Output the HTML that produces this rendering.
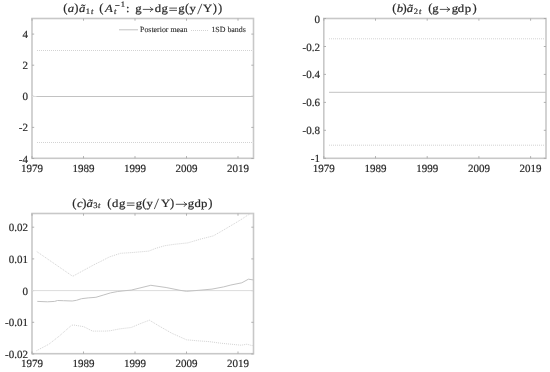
<!DOCTYPE html>
<html><head><meta charset="utf-8"><style>
html,body{margin:0;padding:0;background:#fff;width:550px;height:372px;overflow:hidden}
svg{display:block;filter:blur(0.4px)}
svg{font-size:11px} text{text-rendering:geometricPrecision;font-family:"Liberation Serif",serif;fill:#2a2a2a;stroke:#2a2a2a;stroke-width:0.2px}
</style></head><body>
<svg width="550" height="372" viewBox="0 0 550 372">
<rect width="550" height="372" fill="#fff"/>
<rect x="32" y="18.5" width="221.5" height="139.8" fill="none" stroke="#c8c8c8" stroke-width="1.6"/>
<line x1="32.0" y1="158.3" x2="32.0" y2="156.1" stroke="#a8a8a8" stroke-width="0.9"/>
<line x1="32.0" y1="18.5" x2="32.0" y2="20.7" stroke="#a8a8a8" stroke-width="0.9"/>
<line x1="83.5" y1="158.3" x2="83.5" y2="156.1" stroke="#a8a8a8" stroke-width="0.9"/>
<line x1="83.5" y1="18.5" x2="83.5" y2="20.7" stroke="#a8a8a8" stroke-width="0.9"/>
<line x1="135.0" y1="158.3" x2="135.0" y2="156.1" stroke="#a8a8a8" stroke-width="0.9"/>
<line x1="135.0" y1="18.5" x2="135.0" y2="20.7" stroke="#a8a8a8" stroke-width="0.9"/>
<line x1="186.5" y1="158.3" x2="186.5" y2="156.1" stroke="#a8a8a8" stroke-width="0.9"/>
<line x1="186.5" y1="18.5" x2="186.5" y2="20.7" stroke="#a8a8a8" stroke-width="0.9"/>
<line x1="238.0" y1="158.3" x2="238.0" y2="156.1" stroke="#a8a8a8" stroke-width="0.9"/>
<line x1="238.0" y1="18.5" x2="238.0" y2="20.7" stroke="#a8a8a8" stroke-width="0.9"/>
<line x1="32" y1="34.1" x2="34.2" y2="34.1" stroke="#a8a8a8" stroke-width="0.9"/>
<line x1="253.5" y1="34.1" x2="251.3" y2="34.1" stroke="#a8a8a8" stroke-width="0.9"/>
<line x1="32" y1="65.2" x2="34.2" y2="65.2" stroke="#a8a8a8" stroke-width="0.9"/>
<line x1="253.5" y1="65.2" x2="251.3" y2="65.2" stroke="#a8a8a8" stroke-width="0.9"/>
<line x1="32" y1="96.3" x2="34.2" y2="96.3" stroke="#a8a8a8" stroke-width="0.9"/>
<line x1="253.5" y1="96.3" x2="251.3" y2="96.3" stroke="#a8a8a8" stroke-width="0.9"/>
<line x1="32" y1="127.4" x2="34.2" y2="127.4" stroke="#a8a8a8" stroke-width="0.9"/>
<line x1="253.5" y1="127.4" x2="251.3" y2="127.4" stroke="#a8a8a8" stroke-width="0.9"/>
<line x1="32" y1="158.5" x2="34.2" y2="158.5" stroke="#a8a8a8" stroke-width="0.9"/>
<line x1="253.5" y1="158.5" x2="251.3" y2="158.5" stroke="#a8a8a8" stroke-width="0.9"/>
<line x1="32" y1="96.5" x2="253.5" y2="96.5" stroke="#dcdcdc" stroke-width="1"/>
<line x1="36.5" y1="96.5" x2="253.5" y2="96.5" stroke="#c2c2c2" stroke-width="1"/>
<line x1="37" y1="50.5" x2="253.5" y2="50.5" stroke="#d3d3d3" stroke-width="1" stroke-dasharray="1 1"/>
<line x1="37" y1="142.5" x2="253.5" y2="142.5" stroke="#d3d3d3" stroke-width="1" stroke-dasharray="1 1"/>
<text x="28.0" y="38.1" text-anchor="end">4</text>
<text x="28.0" y="69.2" text-anchor="end">2</text>
<text x="28.0" y="100.3" text-anchor="end">0</text>
<text x="28.0" y="131.4" text-anchor="end">-2</text>
<text x="28.0" y="162.5" text-anchor="end">-4</text>
<text x="32.0" y="172.4" text-anchor="middle">1979</text>
<text x="83.5" y="172.4" text-anchor="middle">1989</text>
<text x="135.0" y="172.4" text-anchor="middle">1999</text>
<text x="186.5" y="172.4" text-anchor="middle">2009</text>
<text x="238.0" y="172.4" text-anchor="middle">2019</text>
<line x1="119" y1="29.8" x2="138" y2="29.8" stroke="#c2c2c2" stroke-width="1"/>
<text x="140" y="31.8" font-size="7.9" style="stroke-width:0.1px">Posterior mean</text>
<line x1="191" y1="30.5" x2="209" y2="30.5" stroke="#d3d3d3" stroke-width="1" stroke-dasharray="1 1"/>
<text x="211.4" y="31.9" font-size="7.9" style="stroke-width:0.1px">1SD bands</text>
<rect x="323.8" y="18.5" width="222.2" height="139.8" fill="none" stroke="#c8c8c8" stroke-width="1.6"/>
<line x1="323.8" y1="158.3" x2="323.8" y2="156.1" stroke="#a8a8a8" stroke-width="0.9"/>
<line x1="323.8" y1="18.5" x2="323.8" y2="20.7" stroke="#a8a8a8" stroke-width="0.9"/>
<line x1="375.5" y1="158.3" x2="375.5" y2="156.1" stroke="#a8a8a8" stroke-width="0.9"/>
<line x1="375.5" y1="18.5" x2="375.5" y2="20.7" stroke="#a8a8a8" stroke-width="0.9"/>
<line x1="427.2" y1="158.3" x2="427.2" y2="156.1" stroke="#a8a8a8" stroke-width="0.9"/>
<line x1="427.2" y1="18.5" x2="427.2" y2="20.7" stroke="#a8a8a8" stroke-width="0.9"/>
<line x1="478.9" y1="158.3" x2="478.9" y2="156.1" stroke="#a8a8a8" stroke-width="0.9"/>
<line x1="478.9" y1="18.5" x2="478.9" y2="20.7" stroke="#a8a8a8" stroke-width="0.9"/>
<line x1="530.6" y1="158.3" x2="530.6" y2="156.1" stroke="#a8a8a8" stroke-width="0.9"/>
<line x1="530.6" y1="18.5" x2="530.6" y2="20.7" stroke="#a8a8a8" stroke-width="0.9"/>
<line x1="323.8" y1="18.5" x2="326.0" y2="18.5" stroke="#a8a8a8" stroke-width="0.9"/>
<line x1="546" y1="18.5" x2="543.8" y2="18.5" stroke="#a8a8a8" stroke-width="0.9"/>
<line x1="323.8" y1="46.5" x2="326.0" y2="46.5" stroke="#a8a8a8" stroke-width="0.9"/>
<line x1="546" y1="46.5" x2="543.8" y2="46.5" stroke="#a8a8a8" stroke-width="0.9"/>
<line x1="323.8" y1="74.4" x2="326.0" y2="74.4" stroke="#a8a8a8" stroke-width="0.9"/>
<line x1="546" y1="74.4" x2="543.8" y2="74.4" stroke="#a8a8a8" stroke-width="0.9"/>
<line x1="323.8" y1="102.4" x2="326.0" y2="102.4" stroke="#a8a8a8" stroke-width="0.9"/>
<line x1="546" y1="102.4" x2="543.8" y2="102.4" stroke="#a8a8a8" stroke-width="0.9"/>
<line x1="323.8" y1="130.3" x2="326.0" y2="130.3" stroke="#a8a8a8" stroke-width="0.9"/>
<line x1="546" y1="130.3" x2="543.8" y2="130.3" stroke="#a8a8a8" stroke-width="0.9"/>
<line x1="323.8" y1="158.3" x2="326.0" y2="158.3" stroke="#a8a8a8" stroke-width="0.9"/>
<line x1="546" y1="158.3" x2="543.8" y2="158.3" stroke="#a8a8a8" stroke-width="0.9"/>
<line x1="329" y1="92.3" x2="546" y2="92.3" stroke="#c2c2c2" stroke-width="1"/>
<line x1="329" y1="38.8" x2="546" y2="38.8" stroke="#d3d3d3" stroke-width="1" stroke-dasharray="1 1"/>
<line x1="329" y1="145.2" x2="546" y2="145.2" stroke="#d3d3d3" stroke-width="1" stroke-dasharray="1 1"/>
<text x="320" y="22.5" text-anchor="end">0</text>
<text x="320" y="50.5" text-anchor="end">-0.2</text>
<text x="320" y="78.4" text-anchor="end">-0.4</text>
<text x="320" y="106.4" text-anchor="end">-0.6</text>
<text x="320" y="134.3" text-anchor="end">-0.8</text>
<text x="320" y="162.3" text-anchor="end">-1</text>
<text x="323.8" y="172.4" text-anchor="middle">1979</text>
<text x="375.5" y="172.4" text-anchor="middle">1989</text>
<text x="427.2" y="172.4" text-anchor="middle">1999</text>
<text x="478.9" y="172.4" text-anchor="middle">2009</text>
<text x="530.6" y="172.4" text-anchor="middle">2019</text>
<rect x="32" y="213.5" width="221.5" height="140.2" fill="none" stroke="#c8c8c8" stroke-width="1.6"/>
<line x1="32.0" y1="353.7" x2="32.0" y2="351.5" stroke="#a8a8a8" stroke-width="0.9"/>
<line x1="32.0" y1="213.5" x2="32.0" y2="215.7" stroke="#a8a8a8" stroke-width="0.9"/>
<line x1="83.5" y1="353.7" x2="83.5" y2="351.5" stroke="#a8a8a8" stroke-width="0.9"/>
<line x1="83.5" y1="213.5" x2="83.5" y2="215.7" stroke="#a8a8a8" stroke-width="0.9"/>
<line x1="135.0" y1="353.7" x2="135.0" y2="351.5" stroke="#a8a8a8" stroke-width="0.9"/>
<line x1="135.0" y1="213.5" x2="135.0" y2="215.7" stroke="#a8a8a8" stroke-width="0.9"/>
<line x1="186.5" y1="353.7" x2="186.5" y2="351.5" stroke="#a8a8a8" stroke-width="0.9"/>
<line x1="186.5" y1="213.5" x2="186.5" y2="215.7" stroke="#a8a8a8" stroke-width="0.9"/>
<line x1="238.0" y1="353.7" x2="238.0" y2="351.5" stroke="#a8a8a8" stroke-width="0.9"/>
<line x1="238.0" y1="213.5" x2="238.0" y2="215.7" stroke="#a8a8a8" stroke-width="0.9"/>
<line x1="32" y1="227.2" x2="34.2" y2="227.2" stroke="#a8a8a8" stroke-width="0.9"/>
<line x1="253.5" y1="227.2" x2="251.3" y2="227.2" stroke="#a8a8a8" stroke-width="0.9"/>
<line x1="32" y1="258.9" x2="34.2" y2="258.9" stroke="#a8a8a8" stroke-width="0.9"/>
<line x1="253.5" y1="258.9" x2="251.3" y2="258.9" stroke="#a8a8a8" stroke-width="0.9"/>
<line x1="32" y1="290.6" x2="34.2" y2="290.6" stroke="#a8a8a8" stroke-width="0.9"/>
<line x1="253.5" y1="290.6" x2="251.3" y2="290.6" stroke="#a8a8a8" stroke-width="0.9"/>
<line x1="32" y1="322.3" x2="34.2" y2="322.3" stroke="#a8a8a8" stroke-width="0.9"/>
<line x1="253.5" y1="322.3" x2="251.3" y2="322.3" stroke="#a8a8a8" stroke-width="0.9"/>
<line x1="32" y1="354.0" x2="34.2" y2="354.0" stroke="#a8a8a8" stroke-width="0.9"/>
<line x1="253.5" y1="354.0" x2="251.3" y2="354.0" stroke="#a8a8a8" stroke-width="0.9"/>
<line x1="32" y1="290.6" x2="253.5" y2="290.6" stroke="#dcdcdc" stroke-width="1"/>
<polyline points="37.3,301.4 47.5,301.8 54.7,301.4 57.5,300.5 63.5,300.7 72.2,301.0 76.5,300.3 81.5,298.7 88.2,297.9 95.9,297.3 103.2,295.1 110.5,292.9 117.7,291.5 125.0,290.7 131.2,290.1 150.8,285.3 166.1,287.5 180.0,290.3 186.5,291.3 198.9,290.3 212.0,289.1 223.6,286.9 230.9,285.0 241.8,282.8 248.4,279.2 253.3,279.9" fill="none" stroke="#c2c2c2" stroke-width="1"/>
<polyline points="36.8,251.6 72.7,276.3 95.0,264.2 100.0,261.8 109.5,256.9 120.5,253.3 132.8,252.5 148.8,251.1 156.1,248.2 164.8,245.7 174.3,244.3 187.8,242.9 200.9,239.0 213.3,235.9 224.1,229.7 234.9,223.3 242.0,219.0 247.5,215.3 250.5,213.7 253.3,213.4" fill="none" stroke="#d3d3d3" stroke-width="1" stroke-dasharray="1 1"/>
<polyline points="36.5,350.7 48.9,344.2 59.1,336.2 71.5,325.3 73.6,325.0 83.8,326.7 92.5,331.1 105.0,331.1 110.0,330.8 119.5,328.9 131.2,327.5 139.9,323.8 149.4,320.2 160.3,326.7 171.9,333.3 180.0,336.9 186.5,339.8 197.5,340.8 209.1,341.6 220.7,343.2 230.9,344.2 241.1,345.2 246.9,344.2 252.0,345.6 253.3,345.5" fill="none" stroke="#d3d3d3" stroke-width="1" stroke-dasharray="1 1"/>
<text x="28.0" y="231.2" text-anchor="end">0.02</text>
<text x="28.0" y="262.9" text-anchor="end">0.01</text>
<text x="28.0" y="294.6" text-anchor="end">0</text>
<text x="28.0" y="326.3" text-anchor="end">-0.01</text>
<text x="28.0" y="358.0" text-anchor="end">-0.02</text>
<text x="32.0" y="367.1" text-anchor="middle">1979</text>
<text x="83.5" y="367.1" text-anchor="middle">1989</text>
<text x="135.0" y="367.1" text-anchor="middle">1999</text>
<text x="186.5" y="367.1" text-anchor="middle">2009</text>
<text x="238.0" y="367.1" text-anchor="middle">2019</text>
<text transform="translate(65.30,12.00) scale(1.0,1)" text-anchor="middle" font-size="12.6" style="stroke-width:0.2px">(</text>
<text transform="translate(71.00,11.60) scale(1.16,1)" text-anchor="middle" font-size="11.0" font-style="italic" style="stroke-width:0.2px">a</text>
<text transform="translate(76.25,12.00) scale(1.0,1)" text-anchor="middle" font-size="12.6" style="stroke-width:0.2px">)</text>
<text transform="translate(82.15,11.60) scale(1.16,1)" text-anchor="middle" font-size="11.0" font-style="italic" style="stroke-width:0.2px">ã</text>
<text transform="translate(88.00,13.50) scale(1.05,1)" text-anchor="middle" font-size="8.2" style="stroke-width:0.2px">1</text>
<text transform="translate(92.10,13.50) scale(1.05,1)" text-anchor="middle" font-size="8.2" font-style="italic" style="stroke-width:0.2px">t</text>
<text transform="translate(101.45,12.00) scale(1.0,1)" text-anchor="middle" font-size="12.6" style="stroke-width:0.2px">(</text>
<text transform="translate(108.95,11.60) scale(1.16,1)" text-anchor="middle" font-size="11.0" font-style="italic" style="stroke-width:0.2px">A</text>
<text transform="translate(115.20,13.50) scale(1.05,1)" text-anchor="middle" font-size="8.2" font-style="italic" style="stroke-width:0.2px">t</text>
<path d="M115.2,5.50H119.6" stroke="#2a2a2a" stroke-width="0.8" fill="none"/>
<text transform="translate(122.80,7.00) scale(1.05,1)" text-anchor="middle" font-size="8.2" style="stroke-width:0.2px">1</text>
<text transform="translate(127.75,11.60) scale(1.16,1)" text-anchor="middle" font-size="11.0" style="stroke-width:0.2px">:</text>
<text transform="translate(138.50,11.60) scale(1.16,1)" text-anchor="middle" font-size="11.0" style="stroke-width:0.2px">g</text>
<path d="M142.8,9.4H152.9" stroke="#2a2a2a" stroke-width="0.8" fill="none"/><path d="M150.2,6.9Q151.0,8.9 153.2,9.4Q151.0,9.9 150.2,11.9" stroke="#2a2a2a" stroke-width="0.8" fill="none"/>
<text transform="translate(157.85,11.60) scale(1.16,1)" text-anchor="middle" font-size="11.0" style="stroke-width:0.2px">d</text>
<text transform="translate(164.65,11.60) scale(1.16,1)" text-anchor="middle" font-size="11.0" style="stroke-width:0.2px">g</text>
<path d="M169.3,8.10H177.0" stroke="#2a2a2a" stroke-width="0.8" fill="none"/>
<path d="M169.3,10.40H177.0" stroke="#2a2a2a" stroke-width="0.8" fill="none"/>
<text transform="translate(181.50,11.60) scale(1.16,1)" text-anchor="middle" font-size="11.0" style="stroke-width:0.2px">g</text>
<text transform="translate(187.20,12.00) scale(1.0,1)" text-anchor="middle" font-size="12.6" style="stroke-width:0.2px">(</text>
<text transform="translate(192.70,11.60) scale(1.16,1)" text-anchor="middle" font-size="11.0" style="stroke-width:0.2px">y</text>
<path d="M197.6,14.2L201.9,3.8" stroke="#2a2a2a" stroke-width="0.8" fill="none"/>
<text transform="translate(207.60,11.60) scale(1.16,1)" text-anchor="middle" font-size="11.0" style="stroke-width:0.2px">Y</text>
<text transform="translate(214.80,12.00) scale(1.0,1)" text-anchor="middle" font-size="12.6" style="stroke-width:0.2px">)</text>
<text transform="translate(220.10,12.00) scale(1.0,1)" text-anchor="middle" font-size="12.6" style="stroke-width:0.2px">)</text>
<text transform="translate(394.40,12.00) scale(1.0,1)" text-anchor="middle" font-size="12.6" style="stroke-width:0.2px">(</text>
<text transform="translate(400.00,11.60) scale(1.16,1)" text-anchor="middle" font-size="11.0" font-style="italic" style="stroke-width:0.2px">b</text>
<text transform="translate(404.70,12.00) scale(1.0,1)" text-anchor="middle" font-size="12.6" style="stroke-width:0.2px">)</text>
<text transform="translate(410.00,11.60) scale(1.16,1)" text-anchor="middle" font-size="11.0" font-style="italic" style="stroke-width:0.2px">ã</text>
<text transform="translate(416.00,13.50) scale(1.05,1)" text-anchor="middle" font-size="8.2" style="stroke-width:0.2px">2</text>
<text transform="translate(420.30,13.50) scale(1.05,1)" text-anchor="middle" font-size="8.2" font-style="italic" style="stroke-width:0.2px">t</text>
<text transform="translate(430.25,12.00) scale(1.0,1)" text-anchor="middle" font-size="12.6" style="stroke-width:0.2px">(</text>
<text transform="translate(435.50,11.60) scale(1.16,1)" text-anchor="middle" font-size="11.0" style="stroke-width:0.2px">g</text>
<path d="M439.8,9.4H449.7" stroke="#2a2a2a" stroke-width="0.8" fill="none"/><path d="M447.0,6.9Q447.8,8.9 450.0,9.4Q447.8,9.9 447.0,11.9" stroke="#2a2a2a" stroke-width="0.8" fill="none"/>
<text transform="translate(455.00,11.60) scale(1.16,1)" text-anchor="middle" font-size="11.0" style="stroke-width:0.2px">g</text>
<text transform="translate(461.00,11.60) scale(1.16,1)" text-anchor="middle" font-size="11.0" style="stroke-width:0.2px">d</text>
<text transform="translate(468.00,11.60) scale(1.16,1)" text-anchor="middle" font-size="11.0" style="stroke-width:0.2px">p</text>
<text transform="translate(474.50,12.00) scale(1.0,1)" text-anchor="middle" font-size="12.6" style="stroke-width:0.2px">)</text>
<text transform="translate(74.40,206.90) scale(1.0,1)" text-anchor="middle" font-size="12.6" style="stroke-width:0.2px">(</text>
<text transform="translate(79.80,206.50) scale(1.16,1)" text-anchor="middle" font-size="11.0" font-style="italic" style="stroke-width:0.2px">c</text>
<text transform="translate(84.40,206.90) scale(1.0,1)" text-anchor="middle" font-size="12.6" style="stroke-width:0.2px">)</text>
<text transform="translate(89.80,206.50) scale(1.16,1)" text-anchor="middle" font-size="11.0" font-style="italic" style="stroke-width:0.2px">ã</text>
<text transform="translate(95.40,208.40) scale(1.05,1)" text-anchor="middle" font-size="8.2" style="stroke-width:0.2px">3</text>
<text transform="translate(99.10,208.40) scale(1.05,1)" text-anchor="middle" font-size="8.2" font-style="italic" style="stroke-width:0.2px">t</text>
<text transform="translate(109.40,206.90) scale(1.0,1)" text-anchor="middle" font-size="12.6" style="stroke-width:0.2px">(</text>
<text transform="translate(115.15,206.50) scale(1.16,1)" text-anchor="middle" font-size="11.0" style="stroke-width:0.2px">d</text>
<text transform="translate(122.30,206.50) scale(1.16,1)" text-anchor="middle" font-size="11.0" style="stroke-width:0.2px">g</text>
<path d="M126.9,203.00H134.5" stroke="#2a2a2a" stroke-width="0.8" fill="none"/>
<path d="M126.9,205.30H134.5" stroke="#2a2a2a" stroke-width="0.8" fill="none"/>
<text transform="translate(139.00,206.50) scale(1.16,1)" text-anchor="middle" font-size="11.0" style="stroke-width:0.2px">g</text>
<text transform="translate(144.25,206.90) scale(1.0,1)" text-anchor="middle" font-size="12.6" style="stroke-width:0.2px">(</text>
<text transform="translate(149.75,206.50) scale(1.16,1)" text-anchor="middle" font-size="11.0" style="stroke-width:0.2px">y</text>
<path d="M154.3,209.1L158.6,198.7" stroke="#2a2a2a" stroke-width="0.8" fill="none"/>
<text transform="translate(165.50,206.50) scale(1.16,1)" text-anchor="middle" font-size="11.0" style="stroke-width:0.2px">Y</text>
<text transform="translate(172.00,206.90) scale(1.0,1)" text-anchor="middle" font-size="12.6" style="stroke-width:0.2px">)</text>
<path d="M175.8,204.3H186.7" stroke="#2a2a2a" stroke-width="0.8" fill="none"/><path d="M184.0,201.8Q184.8,203.8 187.0,204.3Q184.8,204.8 184.0,206.8" stroke="#2a2a2a" stroke-width="0.8" fill="none"/>
<text transform="translate(191.00,206.50) scale(1.16,1)" text-anchor="middle" font-size="11.0" style="stroke-width:0.2px">g</text>
<text transform="translate(197.75,206.50) scale(1.16,1)" text-anchor="middle" font-size="11.0" style="stroke-width:0.2px">d</text>
<text transform="translate(204.25,206.50) scale(1.16,1)" text-anchor="middle" font-size="11.0" style="stroke-width:0.2px">p</text>
<text transform="translate(210.25,206.90) scale(1.0,1)" text-anchor="middle" font-size="12.6" style="stroke-width:0.2px">)</text>
</svg>
</body></html>
